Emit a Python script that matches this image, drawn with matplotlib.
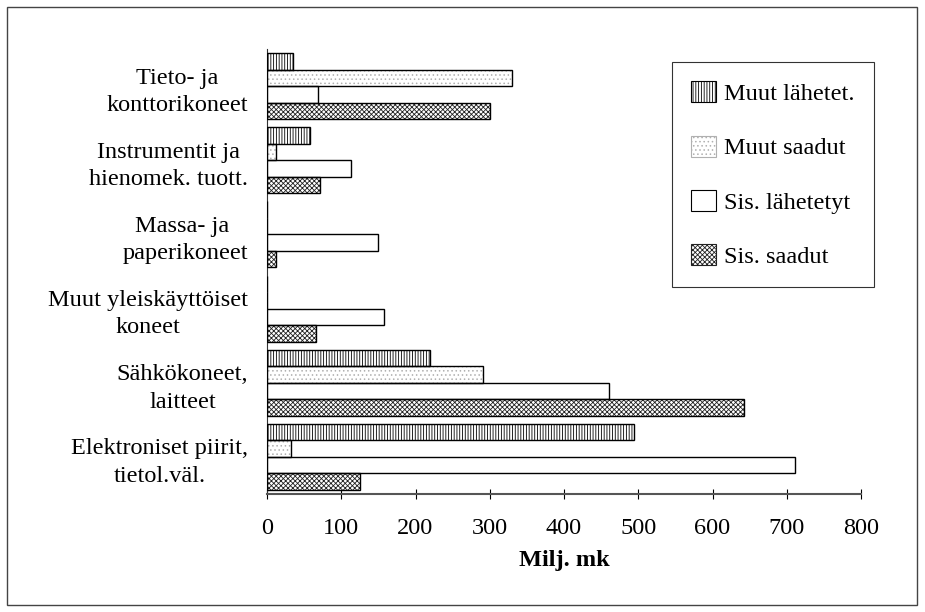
import matplotlib
matplotlib.use("Agg")
import matplotlib.pyplot as plt
from matplotlib.patches import Rectangle
import numpy as np

categories = [
    "Elektroniset piirit,\ntietol.väl.",
    "Sähkökoneet,\nlaitteet",
    "Muut yleiskäyttöiset\nkoneet",
    "Massa- ja \npaperikoneet",
    "Instrumentit ja\nhienomek. tuott.",
    "Tieto- ja\nkonttorikoneet",
]
series_names = ["Muut lähetet.", "Muut saadut", "Sis. lähetetyt", "Sis. saadut"]
muut_lahetet = [494, 219, 0, 0, 58, 35]
muut_saadut = [32, 291, 0, 0, 12, 330]
sis_lahetetyt = [711, 460, 158, 150, 113, 69]
sis_saadut = [125, 643, 66, 12, 71, 300]
x_ticks = [0, 100, 200, 300, 400, 500, 600, 700, 800]

plt.rcParams["font.family"] = ["Liberation Serif", "DejaVu Serif"]
plt.rcParams["hatch.linewidth"] = 0.6
FS = 17.5

# axes box in pixels (left, top, right, bottom)
AX_L, AX_T, AX_R, AX_B = 267, 49, 861, 494
W, H = AX_R - AX_L, AX_B - AX_T

fig = plt.figure(figsize=(9.25, 6.12), dpi=100)
ax = fig.add_axes([AX_L / 925, 1 - AX_B / 612, W / 925, H / 612])

# outer chart border
fig.patches.append(Rectangle((7 / 925, 7 / 612), 910 / 925, 598 / 612,
                             transform=fig.transFigure, fill=False,
                             edgecolor="#444444", linewidth=1.0))

styles = [
    dict(facecolor="white", hatch="||||||", hcolor="black"),
    dict(facecolor="white", hatch="....", hcolor="#b0b0b0"),
    dict(facecolor="white", hatch=None, hcolor="black"),
    dict(facecolor="white", hatch="xxxxxxx", hcolor="#222222"),
]
values = [muut_lahetet, muut_saadut, sis_lahetetyt, sis_saadut]

pos = np.arange(len(categories))
h = 0.222
handles = []
for i, (vals, st, name) in enumerate(zip(values, styles, series_names)):
    y = pos + (1.5 - i) * h
    # fill + hatch layer
    ax.barh(y, vals, height=h, color=st["facecolor"], hatch=st["hatch"],
            edgecolor=st["hcolor"], linewidth=0, zorder=2)
    # outline layer
    ax.barh(y, vals, height=h, fill=False, edgecolor="black", linewidth=1.0, zorder=3)
    handles.append(Rectangle((0, 0), 1, 1, facecolor=st["facecolor"], hatch=st["hatch"],
                             edgecolor=st["hcolor"] if st["hatch"] else "black",
                             linewidth=0.8, label=name))

ax.set_xlim(0, 800)
ax.set_ylim(-0.5, 5.5)
ax.set_xticks(x_ticks)
ax.set_xticklabels([str(t) for t in x_ticks], fontsize=FS)
ax.set_yticks(pos)
ax.set_yticklabels(categories, fontsize=FS, multialignment="center", linespacing=1.4)
ax.tick_params(axis="y", length=0, pad=13.5)
ax.tick_params(axis="x", direction="inout", length=7, width=0.8, pad=13.5)
for s in ["top", "right"]:
    ax.spines[s].set_visible(False)
ax.spines["bottom"].set_color("#555555")
ax.spines["bottom"].set_linewidth(1.5)
ax.spines["left"].set_color("#333333")
ax.set_xlabel("Milj. mk", fontsize=FS, fontweight="bold", labelpad=8)

leg = ax.legend(handles=handles, loc="upper left",
                bbox_to_anchor=((672 - AX_L) / W, 1 - (62 - AX_T) / H),
                fontsize=FS, frameon=True, fancybox=False, edgecolor="black",
                handlelength=1.0, handleheight=0.95, handletextpad=0.35,
                labelspacing=1.25, borderpad=0.8, borderaxespad=0)
leg.get_frame().set_linewidth(0.8)

fig.savefig("out.png", dpi=100)
